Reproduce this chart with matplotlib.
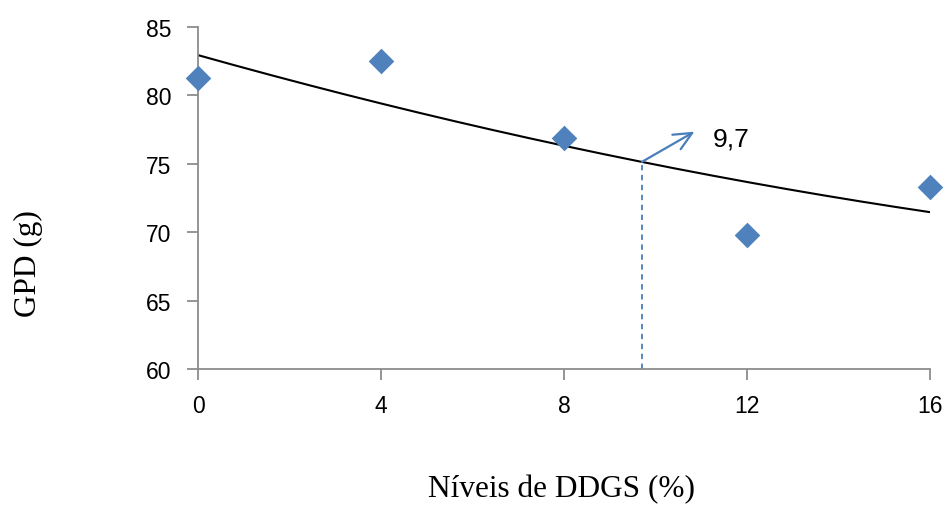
import numpy as np
import matplotlib.pyplot as plt

# DDGS levels (%) and daily weight gain (g)
niveis = [0, 4, 8, 12, 16]
gpd = [81.3, 82.5, 76.9, 69.8, 73.3]
x_ticks = [0, 4, 8, 12, 16]
y_ticks = [60, 65, 70, 75, 80, 85]
ponto_otimo = 9.7
rotulo_otimo = '9,7'

blue = '#4f81bd'

fig = plt.figure(figsize=(9.48, 5.06), dpi=100)
ax = fig.add_axes([0.2089, 0.2688, 0.7722, 0.6759])

# quadratic trendline fitted to the points
coef = np.polyfit(niveis, gpd, 2)
xs = np.linspace(niveis[0], niveis[-1], 200)
ax.plot(xs, np.polyval(coef, xs), color='black', lw=1.5, zorder=2)

ax.scatter(niveis, gpd, marker='D', s=170, color=blue, zorder=3,
           linewidths=0, clip_on=False)

y_opt = np.polyval(coef, ponto_otimo)
ax.plot([ponto_otimo, ponto_otimo], [60, y_opt], color='#4a7ebb', lw=1.3,
        ls=(0, (3, 2.5)), zorder=2)
ax.annotate('', xy=(10.85, 77.35), xytext=(ponto_otimo, y_opt),
            arrowprops=dict(arrowstyle='->,head_length=1.3,head_width=0.6',
                            color='#4a7ebb', lw=1.6, shrinkA=0, shrinkB=0))
ax.text(11.25, 76.85, rotulo_otimo, fontsize=19, family='Liberation Sans',
        va='center', ha='left')

ax.set_xlim(0, 16)
ax.set_ylim(60, 85)
ax.set_xticks(x_ticks)
ax.set_yticks(y_ticks)
ax.tick_params(axis='both', colors='#8c8c8c', length=8, width=1.3,
               labelcolor='black', labelsize=16.5)
ax.tick_params(axis='x', pad=10)
ax.tick_params(axis='y', pad=11)
for lbl in ax.get_xticklabels() + ax.get_yticklabels():
    lbl.set_family('Liberation Sans')
ax.spines['top'].set_visible(False)
ax.spines['right'].set_visible(False)
for s in ['left', 'bottom']:
    ax.spines[s].set_color('#8c8c8c')
    ax.spines[s].set_linewidth(1.3)

fig.text(0.03, 0.48, 'GPD (g)', rotation=90, fontsize=22.5,
         family='Liberation Serif', ha='center', va='center')
fig.text(0.592, 0.032, 'Níveis de DDGS (%)', fontsize=22.5,
         family='Liberation Serif', ha='center', va='center')

fig.savefig('out.png', dpi=100)
